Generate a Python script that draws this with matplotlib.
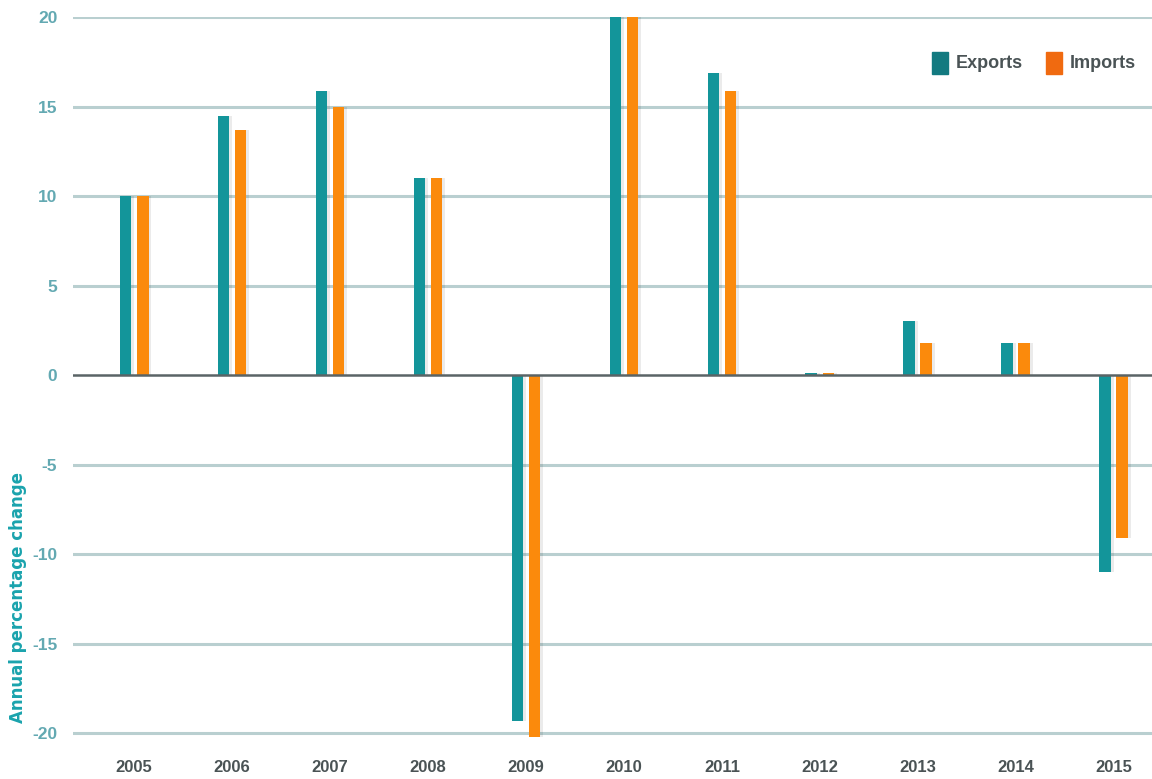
import numpy as np
from matplotlib import pyplot as plt
from matplotlib.patches import Patch

# annual percentage change of trade volumes
years = ['2005', '2006', '2007', '2008', '2009', '2010',
         '2011', '2012', '2013', '2014', '2015']
exports = [10.0, 14.5, 15.9, 11.0, -19.3, 21.0, 16.9, 0.1, 3.0, 1.8, -11.0]
imports = [10.0, 13.7, 15.0, 11.0, -20.2, 21.0, 15.9, 0.1, 1.8, 1.8, -9.1]
y_ticks = [20, 15, 10, 5, 0, -5, -10, -15, -20]

teal = '#13959a'
orange = '#fb8a0c'
font = 'Liberation Sans'

fig = plt.figure(figsize=(11.52, 7.79), dpi=100)
ax = fig.add_axes([0.063, 0.0475, 0.937, 0.9305])

x = np.arange(len(years))
w = 0.12
off = 0.087

# soft drop shadow behind each bar
ax.bar(x - off + 0.025, exports, w, color='#000000', alpha=0.08, zorder=2)
ax.bar(x + off + 0.025, imports, w, color='#000000', alpha=0.08, zorder=2)
ax.bar(x - off, exports, w, color=teal, zorder=3)
ax.bar(x + off, imports, w, color=orange, zorder=3)

ax.set_xlim(-0.628, 10.39)
ax.set_ylim(-20.5, 20)

for t in y_ticks:
    if t == 0:
        ax.axhline(0, color='#5a6466', lw=1.8, zorder=4)
    else:
        ax.axhline(t, color='#b9cfd0', lw=2.2, zorder=1)

for s in ax.spines.values():
    s.set_visible(False)

ax.set_yticks(y_ticks)
ax.set_yticklabels([str(t) for t in y_ticks], family=font, fontweight='bold',
                   fontsize=12.5, color='#63a9b2')
ax.set_xticks(x)
ax.set_xticklabels(years, family=font, fontweight='bold', fontsize=12,
                   color='#4a5355')
ax.tick_params(axis='both', length=0)
ax.tick_params(axis='y', pad=11)
ax.tick_params(axis='x', pad=13)

fig.text(0.016, 0.233, 'Annual percentage change', rotation=90,
         ha='center', va='center', fontsize=12, fontweight='bold',
         color='#1aa3ad')

handles = [Patch(color='#137a80', label='Exports'),
           Patch(color='#f06a10', label='Imports')]
ax.legend(handles=handles, loc='upper right', bbox_to_anchor=(1.0, 0.975),
          ncol=2, frameon=False, handlelength=0.9, handleheight=1.5,
          columnspacing=1.3, handletextpad=0.4,
          prop={'family': font, 'weight': 'bold', 'size': 13},
          labelcolor='#4a5355')

fig.savefig('out.png', dpi=100)
